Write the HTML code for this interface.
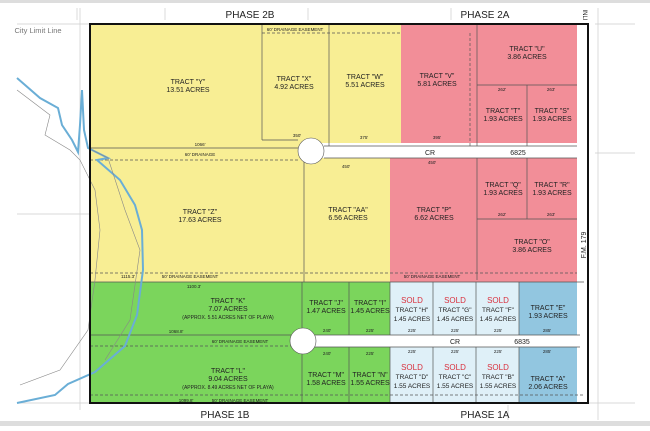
<!DOCTYPE html>
<html><head><style>
body{margin:0;width:650px;height:426px;background:#fff;overflow:hidden;font-family:"Liberation Sans",sans-serif}
svg text{font-family:"Liberation Sans",sans-serif}
</style></head><body>
<svg width="650" height="426" viewBox="0 0 650 426" xmlns="http://www.w3.org/2000/svg">
<rect x="0" y="0" width="650" height="3" fill="#ddd"/>
<rect x="0" y="421" width="650" height="5" fill="#ddd"/>
<g stroke="#ccc" stroke-width="0.7" fill="none">
<line x1="17" y1="24" x2="90" y2="24"/>
<line x1="80" y1="8" x2="80" y2="410"/>
<line x1="77" y1="8" x2="77" y2="20"/>
<line x1="17" y1="214" x2="90" y2="214"/>
<line x1="595" y1="24" x2="635" y2="24"/>
<line x1="595" y1="153" x2="635" y2="153"/>
<line x1="598" y1="8" x2="598" y2="420"/>
<line x1="17" y1="403" x2="90" y2="403"/>
<line x1="588" y1="403" x2="635" y2="403"/>
<line x1="165" y1="8" x2="165" y2="20"/><line x1="308" y1="8" x2="308" y2="20"/><line x1="451" y1="8" x2="451" y2="20"/>
<line x1="508" y1="405" x2="508" y2="420"/>
</g>
<rect x="90" y="24" width="311" height="258" fill="#f8ee94"/>
<rect x="401" y="24" width="176" height="122" fill="#f28e98"/>
<rect x="390" y="158" width="187" height="124" fill="#f28e98"/>
<rect x="90" y="282" width="300" height="121" fill="#7bd55c"/>
<rect x="390" y="282" width="129" height="121" fill="#dff0f8"/>
<path d="M519,282 H584 V329 L580,335 H519 Z M519,347 H580 L584,352 V403 H519 Z" fill="#92c6e0"/>
<rect x="310" y="143" width="278" height="15" fill="#fff"/>
<circle cx="311" cy="151" r="13" fill="#fff" stroke="#555" stroke-width="0.6"/>
<rect x="305" y="335" width="280" height="12" fill="#fff"/>
<circle cx="303" cy="341" r="13" fill="#fff" stroke="#555" stroke-width="0.6"/>
<rect x="577" y="24" width="11" height="379" fill="#fff"/>
<g stroke="#555" stroke-width="0.7" fill="none">
<line x1="90" y1="148" x2="298" y2="148"/>
<line x1="90" y1="160" x2="300" y2="160" stroke-dasharray="3,2"/>
<line x1="262" y1="24" x2="262" y2="140"/><line x1="262" y1="140" x2="298" y2="140"/>
<line x1="329" y1="24" x2="329" y2="146"/>
<line x1="324" y1="146" x2="577" y2="146"/>
<line x1="324" y1="158" x2="577" y2="158"/>
<line x1="304" y1="162" x2="304" y2="282"/>
<line x1="262" y1="33" x2="401" y2="33" stroke-dasharray="3,2"/>
<line x1="90" y1="273" x2="577" y2="273" stroke-dasharray="3,2"/>
<line x1="90" y1="282" x2="584" y2="282"/>
<line x1="477" y1="24" x2="477" y2="146"/>
<line x1="477" y1="85" x2="577" y2="85"/>
<line x1="527" y1="85" x2="527" y2="146"/>
<line x1="477" y1="158" x2="477" y2="280"/>
<line x1="527" y1="158" x2="527" y2="219"/>
<line x1="477" y1="219" x2="577" y2="219"/>
<line x1="470" y1="33" x2="470" y2="146" stroke-dasharray="3,2"/>
<line x1="90" y1="335" x2="291" y2="335"/>
<line x1="90" y1="346" x2="291" y2="346" stroke-dasharray="3,2"/>
<line x1="302" y1="282" x2="302" y2="328"/><line x1="302" y1="354" x2="302" y2="403"/>
<line x1="349" y1="282" x2="349" y2="335"/><line x1="349" y1="347" x2="349" y2="403"/>
<line x1="390" y1="282" x2="390" y2="335"/><line x1="390" y1="347" x2="390" y2="403"/>
<line x1="433" y1="282" x2="433" y2="335"/><line x1="433" y1="347" x2="433" y2="403"/>
<line x1="476" y1="282" x2="476" y2="335"/><line x1="476" y1="347" x2="476" y2="403"/>
<line x1="519" y1="282" x2="519" y2="335"/><line x1="519" y1="347" x2="519" y2="403"/>
<line x1="315" y1="335" x2="580" y2="335"/>
<line x1="315" y1="347" x2="580" y2="347"/>
<line x1="90" y1="395" x2="584" y2="395" stroke-dasharray="3,2"/>
</g>
<path d="M17,78 L40,98 L58,108 L62,125 L72,140 L78,152 L80,125 L82,90 L84,130 L88,148 L108,158 L97,160 L120,180 L135,205 L142,230 L143,270 L137,315 L125,346 L95,372 L68,384 L55,395 L17,403" fill="none" stroke="#6aaed6" stroke-width="2"/>
<path d="M17,90 L50,115 L45,135 L70,150 L80,160 L95,190 L100,230 L95,280 L88,330 L60,370 L20,385" fill="none" stroke="#888" stroke-width="0.6"/>
<path d="M92,150 L108,158 L125,210 L140,250 L130,320 L105,360" fill="none" stroke="#888" stroke-width="0.6"/>
<rect x="90" y="24" width="498" height="379" fill="none" stroke="#111" stroke-width="2"/>
<g font-size="9" fill="#222" text-anchor="middle">
<text x="250" y="18" font-size="10">PHASE 2B</text>
<text x="485" y="18" font-size="10">PHASE 2A</text>
<text x="225" y="418" font-size="10">PHASE 1B</text>
<text x="485" y="418" font-size="10">PHASE 1A</text>
<text x="38" y="33" font-size="7.5" fill="#777">City Limit Line</text>
<text x="188" y="84" font-size="7">TRACT "Y"</text><text x="188" y="92" font-size="7">13.51 ACRES</text>
<text x="294" y="81" font-size="7">TRACT "X"</text><text x="294" y="89" font-size="7">4.92 ACRES</text>
<text x="365" y="79" font-size="7">TRACT "W"</text><text x="365" y="87" font-size="7">5.51 ACRES</text>
<text x="437" y="78" font-size="7">TRACT "V"</text><text x="437" y="86" font-size="7">5.81 ACRES</text>
<text x="527" y="51" font-size="7">TRACT "U"</text><text x="527" y="59" font-size="7">3.86 ACRES</text>
<text x="503" y="113" font-size="7">TRACT "T"</text><text x="503" y="121" font-size="7">1.93 ACRES</text>
<text x="552" y="113" font-size="7">TRACT "S"</text><text x="552" y="121" font-size="7">1.93 ACRES</text>
<text x="200" y="214" font-size="7">TRACT "Z"</text><text x="200" y="222" font-size="7">17.63 ACRES</text>
<text x="348" y="212" font-size="7">TRACT "AA"</text><text x="348" y="220" font-size="7">6.56 ACRES</text>
<text x="434" y="212" font-size="7">TRACT "P"</text><text x="434" y="220" font-size="7">6.62 ACRES</text>
<text x="503" y="187" font-size="7">TRACT "Q"</text><text x="503" y="195" font-size="7">1.93 ACRES</text>
<text x="552" y="187" font-size="7">TRACT "R"</text><text x="552" y="195" font-size="7">1.93 ACRES</text>
<text x="532" y="244" font-size="7">TRACT "O"</text><text x="532" y="252" font-size="7">3.86 ACRES</text>
<text x="430" y="155" font-size="7">CR</text><text x="518" y="155" font-size="7">6825</text>
<text x="228" y="303" font-size="7">TRACT "K"</text><text x="228" y="311" font-size="7">7.07 ACRES</text><text x="228" y="319" font-size="5">(APPROX. 5.51 ACRES NET OF PLAYA)</text>
<text x="228" y="373" font-size="7">TRACT "L"</text><text x="228" y="381" font-size="7">9.04 ACRES</text><text x="228" y="389" font-size="5">(APPROX. 8.49 ACRES NET OF PLAYA)</text>
<text x="326" y="305" font-size="7">TRACT "J"</text><text x="326" y="313" font-size="7">1.47 ACRES</text>
<text x="370" y="305" font-size="7">TRACT "I"</text><text x="370" y="313" font-size="7">1.45 ACRES</text>
<text x="326" y="377" font-size="7">TRACT "M"</text><text x="326" y="385" font-size="7">1.58 ACRES</text>
<text x="370" y="377" font-size="7">TRACT "N"</text><text x="370" y="385" font-size="7">1.55 ACRES</text>
<g fill="#d9323f" font-size="8"><text x="412" y="303">SOLD</text><text x="455" y="303">SOLD</text><text x="498" y="303">SOLD</text>
<text x="412" y="370">SOLD</text><text x="455" y="370">SOLD</text><text x="498" y="370">SOLD</text></g>
<text x="412" y="312" font-size="6.5">TRACT "H"</text><text x="412" y="321" font-size="6.5">1.45 ACRES</text>
<text x="455" y="312" font-size="6.5">TRACT "G"</text><text x="455" y="321" font-size="6.5">1.45 ACRES</text>
<text x="498" y="312" font-size="6.5">TRACT "F"</text><text x="498" y="321" font-size="6.5">1.45 ACRES</text>
<text x="412" y="379" font-size="6.5">TRACT "D"</text><text x="412" y="388" font-size="6.5">1.55 ACRES</text>
<text x="455" y="379" font-size="6.5">TRACT "C"</text><text x="455" y="388" font-size="6.5">1.55 ACRES</text>
<text x="498" y="379" font-size="6.5">TRACT "B"</text><text x="498" y="388" font-size="6.5">1.55 ACRES</text>
<text x="548" y="310" font-size="7">TRACT "E"</text><text x="548" y="318" font-size="7">1.93 ACRES</text>
<text x="548" y="381" font-size="7">TRACT "A"</text><text x="548" y="389" font-size="7">2.06 ACRES</text>
<text x="455" y="344" font-size="7">CR</text><text x="522" y="344" font-size="7">6835</text>
<g font-size="4.5"><text x="200" y="146">1066'</text><text x="200" y="156">60' DRAINAGE</text><text x="295" y="31">60' DRAINAGE EASEMENT</text>
<text x="297" y="137">350'</text><text x="364" y="139">375'</text><text x="437" y="139">395'</text><text x="346" y="168">450'</text><text x="432" y="164">450'</text>
<text x="128" y="278">1115.3'</text><text x="190" y="278">50' DRAINAGE EASEMENT</text><text x="432" y="278">50' DRAINAGE EASEMENT</text>
<text x="194" y="288">1100.3'</text><text x="176" y="333">1068.8'</text><text x="240" y="343">60' DRAINAGE EASEMENT</text><text x="186" y="402">1099.8'</text><text x="240" y="402">50' DRAINAGE EASEMENT</text>
<text x="327" y="332">240'</text><text x="370" y="332">225'</text><text x="327" y="355">240'</text><text x="370" y="355">225'</text>
<text x="412" y="332">225'</text><text x="455" y="332">225'</text><text x="498" y="332">225'</text><text x="412" y="353">225'</text><text x="455" y="353">225'</text><text x="498" y="353">225'</text>
<text x="547" y="332">285'</text><text x="547" y="353">285'</text><text x="502" y="91">262'</text><text x="551" y="91">263'</text><text x="502" y="216">262'</text><text x="551" y="216">263'</text></g>
<text transform="translate(586,245) rotate(-90)" font-size="7">F.M.    179</text>
<text transform="translate(583,15) rotate(90)" font-size="6">INLI</text>
</g>
</svg>
</body></html>
